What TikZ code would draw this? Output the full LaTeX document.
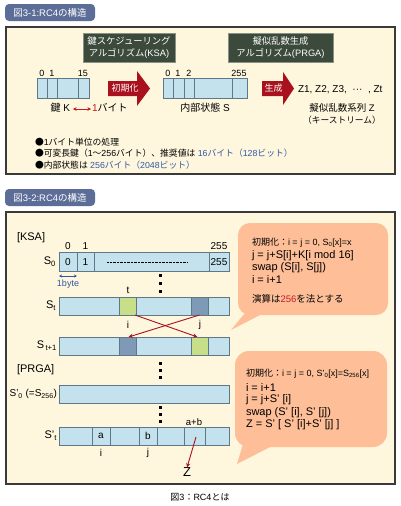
\documentclass[tikz,border=0pt]{standalone}
\usepackage{fontspec}
\setmainfont{Liberation Sans}
\newfontfamily\jp{Noto Sans CJK JP}
\usetikzlibrary{arrows.meta,calc}
\definecolor{tabblue}{HTML}{5C6E98}
\definecolor{panelfill}{HTML}{FEF6DD}
\definecolor{panelline}{HTML}{3A3A3A}
\definecolor{darkbox}{HTML}{3B4A3B}
\definecolor{arrred}{HTML}{A8111D}
\definecolor{cellblue}{HTML}{C4E2EE}
\definecolor{cellline}{HTML}{5F7888}
\definecolor{cellgreen}{HTML}{C6DF88}
\definecolor{celldark}{HTML}{7E9AB6}
\definecolor{bubble}{HTML}{FDBE98}
\definecolor{txtblue}{HTML}{3058A8}
\definecolor{txtred}{HTML}{C41A20}
\newcommand\fs[2]{\fontsize{#1}{#2}\selectfont}
\newcommand\ssub[1]{S’\textsubscript{#1}}
\begin{document}
\begin{tikzpicture}[x=1pt,y=-1pt,
  every node/.style={inner sep=0pt,outer sep=0pt,font=\fs{10}{12}},
  tab/.style={fill=tabblue,rounded corners=4pt,text=white,minimum width=90pt,minimum height=17pt,font=\fs{9.5}{11},anchor=north west},
  panel/.style={fill=panelfill,draw=panelline,line width=1.3pt},
  algbox/.style={fill=darkbox,draw=darkbox!60!white,line width=0.5pt,text=white,align=center,font=\fs{9.3}{11.5}},
  arr/.style={fill=cellblue,draw=cellline,line width=0.6pt,anchor=north west},
  div/.style={draw=cellline,line width=0.6pt},
  lab/.style={font=\fs{9}{11}},
  big/.style={font=\fs{11}{13}},
  btxt/.style={anchor=west,font=\fs{11}{13}},
  bsmall/.style={anchor=west,font=\fs{9}{11}},
  bullet/.style={anchor=west,font=\fs{8.8}{11}},
  redarrow/.style={draw=arrred,line width=0.9pt,-{Stealth[length=4.5pt,width=4pt]}},
  redboth/.style={draw=txtred,line width=1pt,{Stealth[length=3.5pt,width=3.5pt]}-{Stealth[length=3.5pt,width=3.5pt]}},
  bluearr/.style={draw=txtblue,line width=0.6pt,{Stealth[length=3pt,width=3pt]}-{Stealth[length=3pt,width=3pt]}},
  vdot/.style={fill=black}]
\path[use as bounding box,fill=white] (0,0) rectangle (400,506);

% ---------------- Panel 1 ----------------
\node[tab] (tab1) at (5,4) {{\jp 図}3-1:RC4{\jp の構造}};
\draw[panel] (6,27) rectangle (395,174);
\node[algbox,minimum width=92pt,minimum height=29pt] (ksa) at (129,47.5) {{\jp 鍵スケジューリング}\\{\jp アルゴリズム}(KSA)};
\node[algbox,minimum width=105pt,minimum height=29pt] (prga) at (280.5,47.5) {{\jp 擬似乱数生成}\\{\jp アルゴリズム}(PRGA)};

% key array
\node[arr,minimum width=52pt,minimum height=20pt] (key) at (37,78) {};
\foreach \x in {47,57,78} \draw[div] (\x,78) -- (\x,98);
\node[lab] (k0) at (42,73) {0};
\node[lab] (k1) at (52,73) {1};
\node[lab] (k15) at (83,73) {15};
\node[anchor=east] (keyK) at (70,108) {{\jp 鍵} K};
\coordinate (kl) at (73,109);
\coordinate (kr) at (91,109);
\draw[redboth] (kl) -- (kr);
\node[anchor=west] (onebyte) at (92,108) {\textcolor{txtred}{1}{\jp バイト}};

% state array
\node[arr,minimum width=84pt,minimum height=20pt] (state) at (163,78) {};
\foreach \x in {173,184,194,232} \draw[div] (\x,78) -- (\x,98);
\node[lab] (s0n) at (168,73) {0};
\node[lab] (s1n) at (178,73) {1};
\node[lab] (s2n) at (189,73) {2};
\node[lab] (s255n) at (239,73) {255};
\node (stateS) at (205,108) {{\jp 内部状態} S};

% arrows
\fill[arrred] (108,81) -- (137,81) -- (137,71) -- (150,88.5) -- (137,106) -- (137,96) -- (108,96) -- cycle;
\node[text=white,font=\fs{9}{11}] (initl) at (125,88.5) {{\jp 初期化}};
\fill[arrred] (262,81) -- (283,81) -- (283,72) -- (294,88.5) -- (283,105) -- (283,96) -- (262,96) -- cycle;
\node[text=white,font=\fs{9}{11}] (genl) at (273.5,88.5) {{\jp 生成}};

\node[anchor=west] (zseq) at (298,89.5) {Z1, Z2, Z3, ~···~ , Zt};
\node[font=\fs{9.5}{11}] (zname) at (342,108) {{\jp 擬似乱数系列} Z};
\node[font=\fs{8.7}{11}] (kstream) at (342,120) {{\jp （キーストリーム）}};

\node[bullet] (bl1) at (35,142) {{\jp ●}1{\jp バイト単位の処理}};
\node[bullet] (bl2) at (35,153.5) {{\jp ●可変長鍵（}1{\jp ～}256{\jp バイト）、推奨値は} \textcolor{txtblue}{16{\jp バイト（}128{\jp ビット）}}};
\node[bullet] (bl3) at (35,165) {{\jp ●内部状態は} \textcolor{txtblue}{256{\jp バイト（}2048{\jp ビット）}}};

% ---------------- Panel 2 ----------------
\node[tab] (tab2) at (5,189) {{\jp 図}3-2:RC4{\jp の構造}};
\draw[panel] (6,212) rectangle (395,484);

% bubbles
\fill[bubble,rounded corners=12pt] (238,223) rectangle (388,315);
\fill[bubble] (245,313) -- (231,330) -- (264,313) -- cycle;
\fill[bubble,rounded corners=14pt] (235,351) rectangle (387,447);
\fill[bubble] (243,444) -- (237,464) -- (274,445) -- cycle;

\node[bsmall] (b1l1) at (252,243) {{\jp 初期化：}i = j = 0, S\textsubscript{0}[x]=x};
\node[btxt] (b1l2) at (252,255.5) {j = j+S[i]+K[i mod 16]};
\node[btxt] (b1l3) at (252,267.5) {swap (S[i], S[j])};
\node[btxt] (b1l4) at (252,279.5) {i = i+1};
\node[anchor=west,font=\fs{9.5}{11}] (b1l5) at (252,299) {{\jp 演算は}\textcolor{txtred}{256}{\jp を法とする}};

\node[bsmall] (b2l1) at (246,374) {{\jp 初期化：}i = j = 0, \ssub{0}[x]=S\textsubscript{256}[x]};
\node[btxt] (b2l2) at (246,388) {i = i+1};
\node[btxt] (b2l3) at (246,400) {j = j+S’ [i]};
\node[btxt] (b2l4) at (246,412.5) {swap (S’ [i], S’ [j])};
\node[btxt] (b2l5) at (246,425) {Z = S’ [ S’ [i]+S’ [j] ]};

% KSA
\node[big,anchor=west] (ksalab) at (17,238) {[KSA]};
\node[arr,minimum width=170pt,minimum height=19pt] (s0) at (59,252) {};
\foreach \x in {77,94,209} \draw[div] (\x,252) -- (\x,271);
\node (s0c0) at (68,262) {0};
\node (s0c1) at (85.5,262) {1};
\node (s0c255) at (219,262) {255};
\draw[line width=0.6pt,dash pattern=on 0.7pt off 0.7pt] (107,262) -- (187,262);
\node (s0t0) at (68,246.5) {0};
\node (s0t1) at (85.5,246.5) {1};
\node (s0t255) at (219,246.5) {255};
\node[big,anchor=east] (s0lab) at (56,262) {S\textsubscript{0}};
\coordinate (bytel) at (59,276);
\coordinate (byter) at (77,276);
\draw[bluearr] (bytel) -- (byter);
\node[lab,text=txtblue] (bytelab) at (68,284) {1byte};

\foreach \y in {275,283,291} \fill[vdot] (158.5,\y-1.5) rectangle ++(3,3);
\node (tlab) at (128,290) {t};

\node[arr,minimum width=170pt,minimum height=18pt] (st) at (59,297) {};
\node[arr,fill=cellgreen,minimum width=17pt,minimum height=18pt] (stg) at (119,297) {};
\node[arr,fill=celldark,minimum width=17pt,minimum height=18pt] (stb) at (191,297) {};
\node[big,anchor=east] (stlab) at (56,306) {S\textsubscript{t}};
\node (ilab) at (128,324.5) {i};
\node (jlab) at (200,324.5) {j};

\node[arr,minimum width=170pt,minimum height=18pt] (s1) at (59,337) {};
\node[arr,fill=celldark,minimum width=17pt,minimum height=18pt] (s1b) at (119,337) {};
\node[arr,fill=cellgreen,minimum width=17pt,minimum height=18pt] (s1g) at (191,337) {};
\node[big,anchor=east] (s1lab) at (57,346) {S\textsubscript{\,t+1}};

\draw[redarrow] ($(stg.south east)+(-1,0)$) -- ($(s1g.north)+(-2,0)$);
\draw[redarrow] (stb.south) -- ($(s1b.north)+(1,0)$);

% PRGA
\node[big,anchor=west] (prgalab) at (17,370) {[PRGA]};
\foreach \y in {363,370,377} \fill[vdot] (158.5,\y-1.5) rectangle ++(3,3);
\node[arr,minimum width=170pt,minimum height=18pt] (sp0) at (59,385) {};
\node[anchor=east,font=\fs{10}{12}] (sp0lab) at (57,394) {\ssub{0} (=S\textsubscript{256})};

\foreach \y in {407,414,421} \fill[vdot] (158.5,\y-1.5) rectangle ++(3,3);
\node[lab,font=\fs{9.5}{11}] (ablab) at (194,422) {a+b};
\node[arr,minimum width=170pt,minimum height=18pt] (spt) at (59,427) {};
\foreach \x in {92,110,139,157,184,205} \draw[div] (\x,427) -- (\x,445);
\node (ca) at (101,436) {a};
\node (cb) at (148,436) {b};
\node[anchor=north west,minimum width=21pt,minimum height=18pt] (cab) at (184,427) {};
\node[big,anchor=east] (sptlab) at (57,436) {\ssub{t}};
\node (ilab2) at (101,453) {i};
\node (jlab2) at (148,453) {j};
\node[font=\fs{13}{15}] (zout) at (187,472) {Z};
\draw[redarrow] ($(cab.center)+(1.5,1)$) -- (zout.north);

\node[font=\fs{9}{11}] (caption) at (200,497) {{\jp 図}3{\jp ：}RC4{\jp とは}};
\end{tikzpicture}
\end{document}
